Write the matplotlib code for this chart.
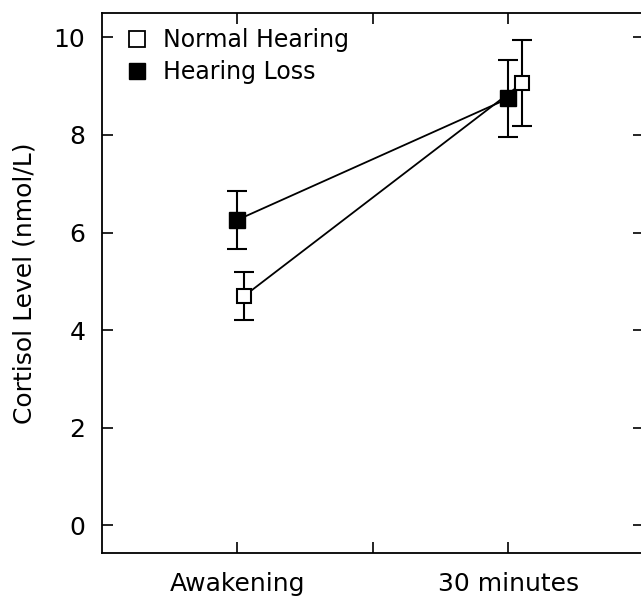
import matplotlib
matplotlib.use("Agg")
import matplotlib.pyplot as plt
from matplotlib.lines import Line2D

categories = ["Awakening", "30 minutes"]
nh_x = [1.05, 3.1]
hl_x = [1.0, 3.0]
nh_mean = [4.70, 9.06]
nh_err = [0.49, 0.88]
hl_mean = [6.26, 8.75]
hl_err = [0.60, 0.79]

plt.rcParams['font.family'] = ['DejaVu Sans']
fig = plt.figure(figsize=(6.41, 6.05), dpi=100)
ax = fig.add_axes([102/641, 52/605, 542/641, 540/605])

ax.errorbar(hl_x, hl_mean, yerr=hl_err, color='black', lw=1.3, elinewidth=1.5,
            capsize=7, capthick=1.5, marker='s', markersize=11,
            markerfacecolor='black', markeredgecolor='black', zorder=3)
ax.errorbar(nh_x, nh_mean, yerr=nh_err, color='black', lw=1.3, elinewidth=1.5,
            capsize=7, capthick=1.5, marker='s', markersize=10,
            markerfacecolor='white', markeredgecolor='black', markeredgewidth=1.5,
            zorder=4)

ax.set_xlim(0, 4)
ax.set_ylim(-0.57, 10.5)
ax.set_xticks([1, 2, 3])
ax.set_xticklabels([categories[0], "", categories[1]])
ax.set_yticks([0, 2, 4, 6, 8, 10])
ax.tick_params(direction='in', top=True, right=True, length=8, width=1.2,
               labelsize=18)
ax.tick_params(axis='x', pad=14)
ax.tick_params(axis='y', pad=12)
for s in ax.spines.values():
    s.set_linewidth(1.3)
ax.set_ylabel("Cortisol Level (nmol/L)", fontsize=18, labelpad=12)

handles = [
    Line2D([], [], ls='none', marker='s', markersize=11, markerfacecolor='white',
           markeredgecolor='black', markeredgewidth=1.3),
    Line2D([], [], ls='none', marker='s', markersize=11, markerfacecolor='black',
           markeredgecolor='black'),
]
ax.legend(handles, ["Normal Hearing", "Hearing Loss"], loc='upper left',
          bbox_to_anchor=(0.035, 0.985), frameon=False, fontsize=17,
          handlelength=0.8, handletextpad=0.7, borderaxespad=0.0,
          labelspacing=0.35, borderpad=0.3)

fig.savefig("out.png", dpi=100)
